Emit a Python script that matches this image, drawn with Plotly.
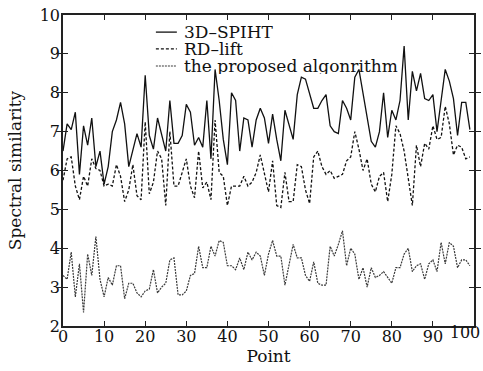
import plotly.graph_objects as go

points = list(range(100))

spiht = [6.5, 7.2, 7.05, 7.5, 5.9, 7.15, 6.65, 7.35, 6.1, 6.5,
         5.65, 6.1, 7.0, 7.3, 7.75, 7.2, 6.1, 6.5, 6.95, 6.6,
         8.45, 6.9, 6.55, 7.35, 6.9, 6.5, 7.8, 6.7, 6.7, 6.9,
         7.7, 7.5, 6.65, 6.85, 6.6, 7.8, 6.3, 8.6, 7.8, 6.8,
         6.15, 8.0, 7.8, 6.5, 7.35, 7.3, 6.6, 7.3, 7.6, 7.35,
         6.7, 7.45, 6.8, 6.25, 7.55, 7.2, 6.8, 7.95, 8.4, 8.35,
         8.0, 7.6, 7.6, 7.8, 7.95, 7.15, 7.0, 6.95, 7.8, 7.6,
         7.3, 8.4, 8.6, 8.0, 7.35, 6.75, 6.6, 7.0, 8.0, 6.85,
         7.55, 7.3, 7.8, 9.2, 7.3, 8.55, 8.05, 8.5, 7.85, 7.8,
         7.95, 7.0, 7.8, 8.6, 8.3, 7.85, 6.9, 7.75, 7.75, 7.05]

rdlift = [5.75, 6.3, 6.35, 5.6, 5.25, 5.85, 5.6, 6.3, 6.05, 6.0,
          5.6, 5.65, 5.6, 6.15, 5.85, 5.2, 5.5, 6.15, 5.35, 5.25,
          7.25, 5.4, 5.7, 6.5, 6.3, 5.1, 7.0, 5.6, 5.6, 5.95,
          6.3, 5.6, 5.3, 6.5, 5.55, 5.7, 5.25, 7.3, 5.95, 5.85,
          5.1, 5.6, 5.6, 5.6, 5.85, 5.6, 5.7, 5.95, 6.4, 5.9,
          5.45, 6.25, 5.1, 5.05, 5.95, 5.2, 5.2, 6.15, 6.1, 5.5,
          5.15, 6.35, 6.5, 6.1, 5.9, 6.0, 5.8, 5.85, 5.9, 6.25,
          6.35, 7.0, 6.55, 6.0, 6.3, 5.65, 5.45, 5.85, 5.95, 5.2,
          5.9, 7.15, 6.95, 6.5, 5.85, 5.1, 6.65, 6.1, 6.7, 6.55,
          7.15, 6.8, 6.85, 7.65, 7.2, 6.4, 6.65, 6.6, 6.3, 6.35]

proposed = [3.3, 3.2, 3.9, 2.75, 3.6, 2.35, 3.85, 3.3, 4.3, 3.2,
            2.75, 3.25, 3.05, 3.55, 3.55, 2.7, 3.1, 3.1, 2.85, 2.75,
            2.9, 2.95, 3.45, 2.85, 3.0, 3.1, 3.7, 3.75, 2.8, 2.8,
            2.9, 3.3, 3.35, 4.05, 3.5, 3.5, 4.05, 3.8, 4.2, 4.15,
            3.55, 3.55, 3.45, 3.75, 3.45, 3.9, 3.7, 3.9, 3.8, 3.3,
            3.85, 4.2, 3.8, 3.8, 3.05, 3.6, 4.1, 3.75, 3.75, 3.3,
            3.15, 3.65, 3.1, 3.05, 3.05, 4.05, 3.8, 4.1, 4.45, 3.55,
            4.0, 3.85, 3.2, 3.5, 3.0, 3.5, 3.25, 3.3, 3.4, 3.25,
            3.1, 3.5, 3.5, 3.85, 4.0, 3.4, 3.55, 3.6, 3.2, 3.6,
            3.7, 3.4, 4.15, 3.6, 4.15, 4.05, 3.5, 3.7, 3.7, 3.55]

series_names = ["3D\u2013SPIHT", "RD\u2013lift", "the proposed algonrithm"]
x_ticks = [0, 10, 20, 30, 40, 50, 60, 70, 80, 90]
x_tick_last = [100]
y_ticks = [2, 3, 4, 5, 6, 7, 8, 9, 10]

FONT = "DejaVu Serif, Liberation Serif, serif"
TICKF = dict(family=FONT, size=16, color="#111")
TITLEF = dict(family=FONT, size=17, color="#111")
styles = [
    dict(color="#111111", width=1.3, dash="solid"),
    dict(color="#111111", width=1.3, dash="3px,2px"),
    dict(color="#3a3a3a", width=1.2, dash="2px,1px"),
]

fig = go.Figure()
for name, ys, st in zip(series_names, [spiht, rdlift, proposed], styles):
    fig.add_trace(go.Scatter(x=points, y=ys, mode="lines", name=name,
                             line=st, showlegend=False))

# manual legend (paper coordinates)
leg_y = [0.945, 0.891, 0.836]
for name, st, yy in zip(series_names, styles, leg_y):
    fig.add_shape(type="line", xref="paper", yref="paper",
                  x0=0.226, x1=0.277, y0=yy, y1=yy, line=st)
    fig.add_annotation(xref="paper", yref="paper", x=0.290, y=yy,
                       text=name, showarrow=False, xanchor="left",
                       yanchor="middle", height=16, font=TITLEF)

axis_common = dict(showline=True, linecolor="#222", linewidth=1.5, mirror="allticks",
                   ticks="inside", ticklen=5, tickwidth=1.3, tickcolor="#222",
                   showgrid=False, zeroline=False, automargin=False,
                   tickfont=TICKF)

fig.update_layout(
    width=483, height=371,
    margin=dict(l=63, r=9, t=15, b=45),
    paper_bgcolor="white", plot_bgcolor="white",
    font=dict(family=FONT, color="#111"),
    xaxis=dict(range=[0, 100], tickvals=x_ticks, ticklabelstandoff=-5,
               title=dict(text="Point", font=TITLEF, standoff=2),
               **axis_common),
    xaxis2=dict(range=[0, 100], tickvals=x_tick_last, overlaying="x", side="bottom",
                showline=False, ticks="", showgrid=False, zeroline=False,
                automargin=False, ticklabelshift=-9, ticklabelstandoff=-5,
                ticklabeloverflow="allow", tickfont=TICKF),
    yaxis=dict(range=[2, 10], tickvals=y_ticks, ticklabelstandoff=-2,
               title=dict(text="Spectral similarity", font=TITLEF, standoff=14),
               **axis_common),
)
# invisible trace to activate xaxis2
fig.add_trace(go.Scatter(x=[None], y=[None], xaxis="x2", showlegend=False, hoverinfo="skip"))

fig.write_html("out.html", config={"displayModeBar": False},
               post_script="document.body.style.margin='0';")
